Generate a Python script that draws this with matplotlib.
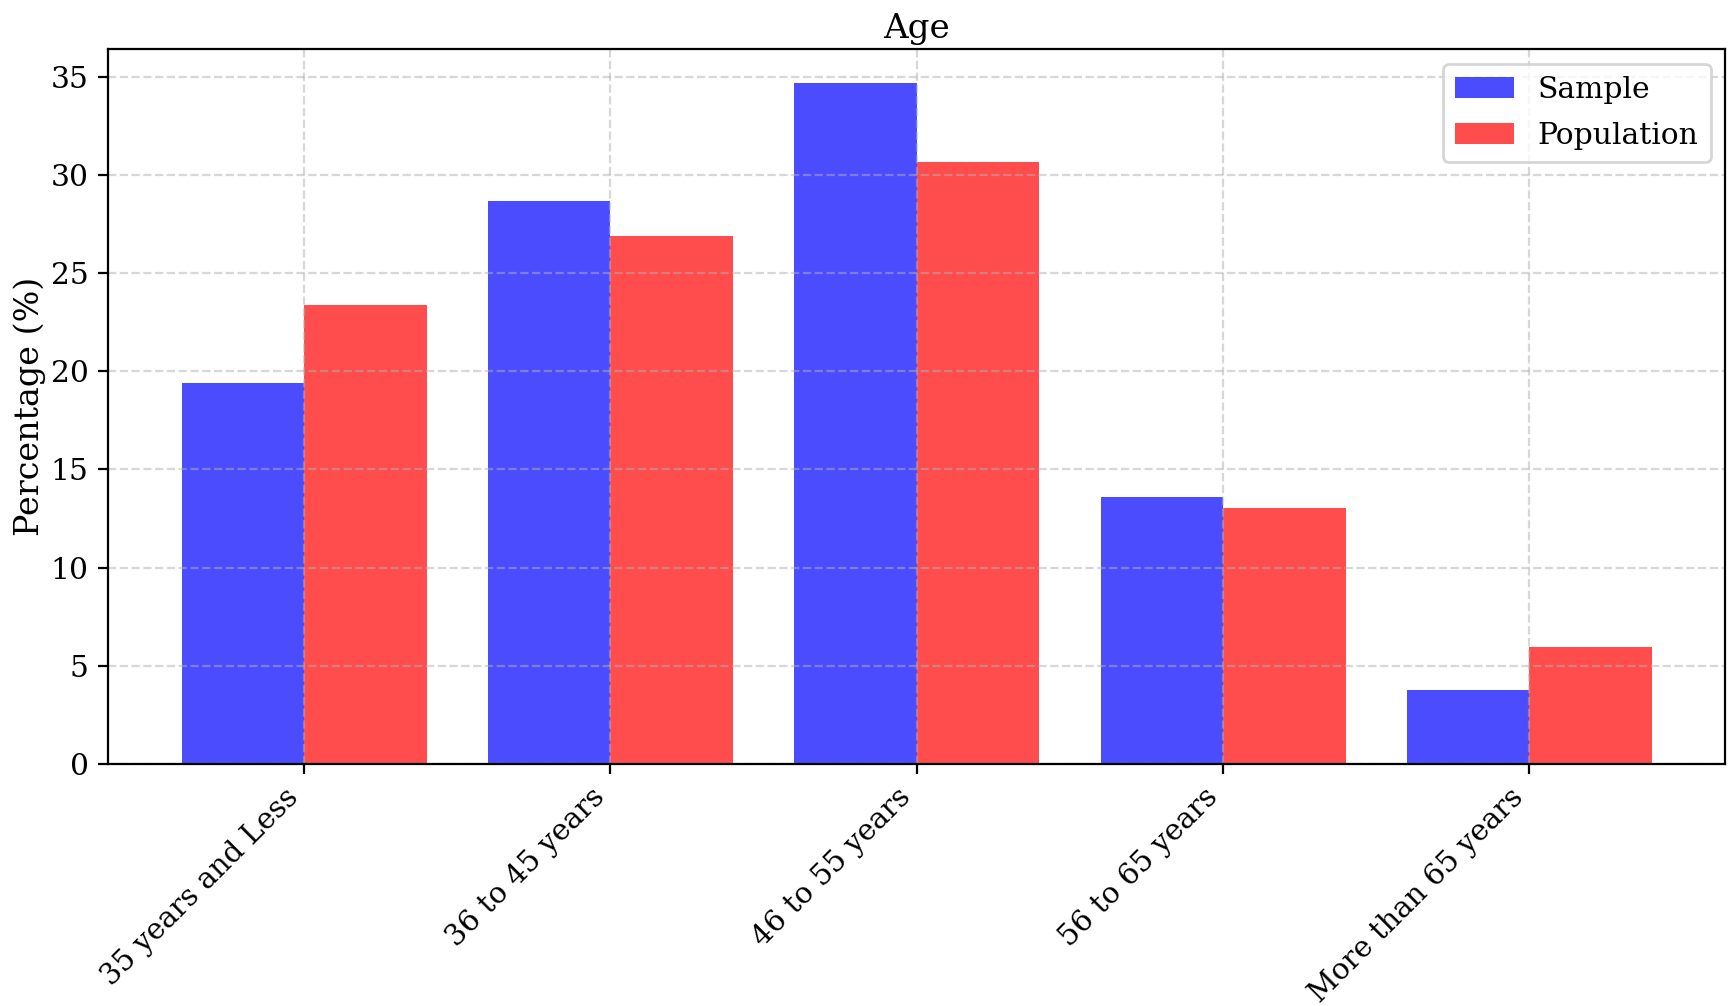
import matplotlib
matplotlib.use("Agg")
import matplotlib.pyplot as plt
import numpy as np

# data
categories = ['35 years and Less', '36 to 45 years', '46 to 55 years',
              '56 to 65 years', 'More than 65 years']
sample = [19.4, 28.7, 34.7, 13.6, 3.75]
population = [23.4, 26.9, 30.7, 13.05, 5.95]

plt.rcParams['font.family'] = 'DejaVu Serif'
plt.rcParams['font.size'] = 10.7

x = np.arange(len(categories))
width = 0.4

fig = plt.figure(figsize=(8.64, 5.03), dpi=200)
ax = fig.add_subplot(1, 1, 1)
ax.bar(x - width / 2, sample, width, color='blue', alpha=0.7, label='Sample')
ax.bar(x + width / 2, population, width, color='red', alpha=0.7, label='Population')

ax.set_title('Age', fontsize=12.3, pad=4)
ax.set_ylabel('Percentage (%)', fontsize=12, labelpad=1.5)
ax.set_xticks(x)
ax.set_xticklabels(categories, rotation=45, ha='right', fontsize=10.5)
ax.grid(True, linestyle='--', alpha=0.5)
ax.legend(loc='upper right', labelspacing=0.6)

fig.subplots_adjust(left=0.0625, right=0.9985, top=0.951, bottom=0.241)
fig.savefig('out.png', dpi=200)
